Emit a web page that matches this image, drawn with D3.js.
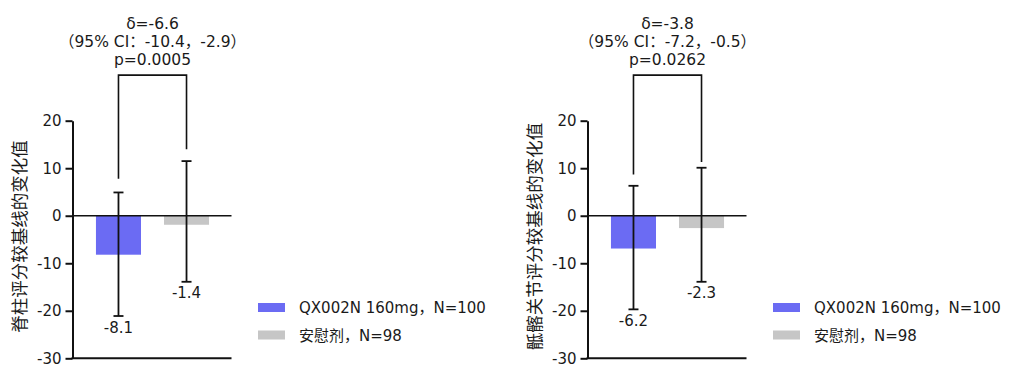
<!DOCTYPE html>
<html lang="zh">
<head>
<meta charset="UTF-8" />
<title>QX002N 变化值</title>
<script src="https://d3js.org/d3.v7.min.js"></script>
<style>
  body { margin: 0; background: #fff; }
  svg { display: block; }
  text { font-family: "DejaVu Sans", "Noto Sans CJK SC", sans-serif; fill: #1a1a1a; }
  .cjk { font-family: "Noto Sans CJK SC", sans-serif; }
</style>
</head>
<body>
<svg id="chart" width="1015" height="373"></svg>
<script>
  // 数据
  const groups = ["QX002N 160mg，N=100", "安慰剂，N=98"];
  const colors = ["#6b6bf3", "#c6c6c6"];
  const yTitles = ["脊柱评分较基线的变化值", "骶髂关节评分较基线的变化值"];
  const barValues = [[-8.2, -1.9], [-6.9, -2.6]];
  const barLabels = [["-8.1", "-1.4"], ["-6.2", "-2.3"]];
  const errUpper = [[4.9, 11.5], [6.3, 10.1]];
  const errLower = [[-21.1, -13.9], [-19.7, -13.9]];
  const deltaText = [
    ["δ=-6.6", "（95% CI：-10.4，-2.9）", "p=0.0005"],
    ["δ=-3.8", "（95% CI：-7.2，-0.5）", "p=0.0262"]
  ];
  const bracketTop = [29.6, 29.6];
  const bracketLegs = [[7.8, 14.0], [8.7, 11.3]];
  const yTicks = [20, 10, 0, -10, -20, -30];

  const svg = d3.select("#chart");
  const y = d3.scaleLinear().domain([-30, 20]).range([358.3, 120.7]);

  function drawPanel(p, offset) {
    const g = svg.append("g").attr("transform", `translate(${offset},0)`);
    const axisX = 72.5, rightX = 231.5;
    const x = d3.scaleBand().domain([0, 1]).range([73.5, 231.5]).paddingInner(0.338).paddingOuter(0.33);
    const cx = i => x(i) + x.bandwidth() / 2;

    // 柱子
    g.selectAll("rect.bar").data(barValues[p]).join("rect")
      .attr("class", "bar")
      .attr("x", (d, i) => x(i))
      .attr("width", x.bandwidth())
      .attr("y", d => y(Math.max(0, d)))
      .attr("height", d => Math.abs(y(d) - y(0)))
      .attr("fill", (d, i) => colors[i]);

    // y 轴
    const axis = d3.axisLeft(y).tickValues(yTicks).tickFormat(d => String(d))
      .tickSize(7).tickSizeOuter(0).tickPadding(4);
    const ax = g.append("g").attr("transform", `translate(${axisX},0)`).call(axis);
    ax.attr("font-family", null).attr("font-size", null);
    ax.select(".domain").attr("stroke", "#111").attr("stroke-width", 2);
    ax.selectAll(".tick line").attr("stroke", "#111").attr("stroke-width", 2);
    ax.selectAll(".tick text").style("font-size", "15px").attr("fill", "#1a1a1a");

    // 零线 和 底线
    g.append("line").attr("x1", axisX).attr("x2", rightX).attr("y1", y(0)).attr("y2", y(0))
      .attr("stroke", "#111").attr("stroke-width", 1.6);
    g.append("line").attr("x1", axisX - 1).attr("x2", rightX).attr("y1", y(-30)).attr("y2", y(-30))
      .attr("stroke", "#111").attr("stroke-width", 2);

    // 误差线
    const eg = g.selectAll("g.err").data([0, 1]).join("g").attr("class", "err");
    eg.append("line")
      .attr("x1", cx).attr("x2", cx)
      .attr("y1", i => y(errUpper[p][i])).attr("y2", i => y(errLower[p][i]));
    eg.append("line")
      .attr("x1", i => cx(i) - 5).attr("x2", i => cx(i) + 5)
      .attr("y1", i => y(errUpper[p][i])).attr("y2", i => y(errUpper[p][i]));
    eg.append("line")
      .attr("x1", i => cx(i) - 5).attr("x2", i => cx(i) + 5)
      .attr("y1", i => y(errLower[p][i])).attr("y2", i => y(errLower[p][i]));
    eg.selectAll("line").attr("stroke", "#111").attr("stroke-width", 1.8);

    // 数值标签
    g.selectAll("text.val").data(barLabels[p]).join("text")
      .attr("class", "val")
      .attr("x", (d, i) => cx(i))
      .attr("y", (d, i) => y(errLower[p][i]) + 16.5)
      .attr("text-anchor", "middle")
      .style("font-size", "15px")
      .text(d => d);

    // 括号
    const [l0, l1] = bracketLegs[p];
    g.append("path")
      .attr("d", d3.line()([[cx(0), y(l0)], [cx(0), y(bracketTop[p])], [cx(1), y(bracketTop[p])], [cx(1), y(l1)]]))
      .attr("fill", "none").attr("stroke", "#111").attr("stroke-width", 1.6);

    // 注释
    const mid = (cx(0) + cx(1)) / 2;
    g.selectAll("text.ann").data(deltaText[p]).join("text")
      .attr("class", "ann")
      .attr("x", mid)
      .attr("y", (d, i) => 28.5 + i * 18)
      .attr("text-anchor", "middle")
      .style("font-size", "15.5px")
      .text(d => d);

    // y 轴标题
    g.append("text")
      .attr("class", "cjk")
      .attr("transform", `translate(26,${(y(20) + y(-30)) / 2 - 3}) rotate(-90)`)
      .attr("text-anchor", "middle")
      .style("font-size", "17.5px")
      .text(yTitles[p]);

    // 图例
    const lg = g.selectAll("g.leg").data(groups).join("g")
      .attr("class", "leg")
      .attr("transform", (d, i) => `translate(258,${303 + i * 27.5})`);
    lg.append("rect").attr("width", 27).attr("height", 9).attr("fill", (d, i) => colors[i]);
    lg.append("text").attr("x", 41).attr("y", 10).style("font-size", "15px").text(d => d);
  }

  drawPanel(0, 0);
  drawPanel(1, 515);
</script>
</body>
</html>
